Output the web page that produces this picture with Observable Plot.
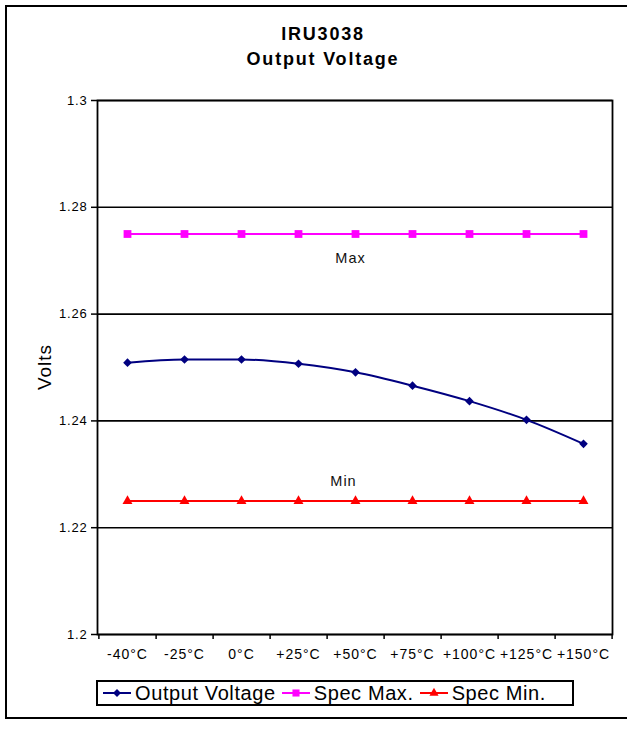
<!DOCTYPE html>
<html>
<head>
<meta charset="utf-8">
<script src="https://cdn.jsdelivr.net/npm/d3@7"></script>
<script src="https://cdn.jsdelivr.net/npm/@observablehq/plot@0.6"></script>
<style>
  body { margin: 0; background: #fff; font-family: "Liberation Sans", Arial, sans-serif; }
  #wrap { position: relative; width: 627px; height: 729px; overflow: hidden; background: #fff; }
  #border { position: absolute; left: 5px; top: 5px; width: 640px; height: 714px; border: 2px solid #000; box-sizing: border-box; }
  #title { position: absolute; left: 0; width: 646px; top: 22px; text-align: center; font-weight: bold; font-size: 18px; letter-spacing: 1.8px; line-height: 25px; color: #000; }
  #ylabel { position: absolute; left: 45px; top: 367px; transform: translate(-50%, -50%) rotate(-90deg); font-size: 19px; letter-spacing: 1px; color: #000; white-space: nowrap; }
  #chart { position: absolute; left: 0; top: 0; }
  #legend { position: absolute; left: 96px; top: 680px; width: 478px; height: 26px; border: 2px solid #000; box-sizing: border-box; display: flex; align-items: center; font-size: 20px; letter-spacing: 0.6px; color: #000; padding-left: 5px; white-space: nowrap; }
  .item { display: flex; align-items: center; margin-right: 6px; }
  .item svg { margin-right: 4px; }
  #chart g[aria-label="x-axis tick label"] text { letter-spacing: 1px; }
  #chart g[aria-label="y-axis tick label"] text { letter-spacing: 0.8px; }
  #chart g[aria-label="text"] text { letter-spacing: 1px; }
</style>
</head>
<body>
<div id="wrap">
  <div id="border"></div>
  <div id="title">IRU3038<br>Output Voltage</div>
  <div id="ylabel">Volts</div>
  <div id="chart"></div>
  <div id="legend"></div>
</div>
<script>
const categories = ["-40°C", "-25°C", "0°C", "+25°C", "+50°C", "+75°C", "+100°C", "+125°C", "+150°C"];
const outputVoltage = [1.2509, 1.2515, 1.2515, 1.2507, 1.2491, 1.2466, 1.2437, 1.2402, 1.2357];
const specMax = [1.275, 1.275, 1.275, 1.275, 1.275, 1.275, 1.275, 1.275, 1.275];
const specMin = [1.225, 1.225, 1.225, 1.225, 1.225, 1.225, 1.225, 1.225, 1.225];
const yTicks = [1.2, 1.22, 1.24, 1.26, 1.28, 1.3];
const seriesNames = ["Output Voltage", "Spec Max.", "Spec Min."];
const seriesColors = ["#000080", "#FF00FF", "#FF0000"];
const seriesSymbols = ["diamond2", "square", "triangle"];
const maxLabel = [{label: "Max", x: "+50°C", y: 1.2704}];
const minLabel = [{label: "Min", x: "+50°C", y: 1.2287}];

const rows = (vals) => categories.map((c, i) => ({cat: c, v: vals[i]}));
const ov = rows(outputVoltage), mx = rows(specMax), mn = rows(specMin);

const W = 627, H = 729, mL = 97, mR = 15, mT = 100, mB = 95;
const bw = (W - mL - mR) / categories.length;

const chart = Plot.plot({
  width: W,
  height: H,
  marginLeft: mL,
  marginRight: mR,
  marginTop: mT,
  marginBottom: mB,
  style: {background: "transparent", fontFamily: "Liberation Sans, Arial, sans-serif", color: "#000"},
  x: {type: "point", domain: categories, padding: 0.5, align: 0.5},
  y: {domain: [1.2, 1.3]},
  marks: [
    Plot.ruleY(yTicks, {stroke: "#000", strokeWidth: 1.6}),
    Plot.frame({stroke: "#000", strokeWidth: 1.8}),
    Plot.ruleX(categories, {x: d => d, y1: 1.2, y2: 1.2, dx: bw / 2, insetBottom: -5, stroke: "#000", strokeWidth: 1.5}),
    Plot.ruleX([categories[0]], {x: d => d, y1: 1.2, y2: 1.2, dx: -bw / 2, insetBottom: -5, stroke: "#000", strokeWidth: 1.5}),
    Plot.axisY({ticks: yTicks, tickFormat: d => String(+d.toFixed(2)), tickSize: 6, tickPadding: 4, fontSize: 13, label: null, stroke: "#000", strokeWidth: 1.5}),
    Plot.axisX({tickSize: 0, tickPadding: 15, fontSize: 14, label: null}),
    Plot.line(mx, {x: "cat", y: "v", stroke: seriesColors[1], strokeWidth: 2}),
    Plot.dot(mx, {x: "cat", y: "v", symbol: seriesSymbols[1], r: 4.4, fill: seriesColors[1], stroke: "none"}),
    Plot.line(mn, {x: "cat", y: "v", stroke: seriesColors[2], strokeWidth: 2}),
    Plot.dot(mn, {x: "cat", y: "v", symbol: seriesSymbols[2], r: 3.7, fill: seriesColors[2], stroke: "none"}),
    Plot.line(ov, {x: "cat", y: "v", stroke: seriesColors[0], strokeWidth: 2, curve: "monotone-x"}),
    Plot.dot(ov, {x: "cat", y: "v", symbol: seriesSymbols[0], r: 3.9, fill: seriesColors[0], stroke: "none"}),
    Plot.text(maxLabel, {x: "x", y: "y", text: "label", dx: -5, fontSize: 14.5, fill: "#111"}),
    Plot.text(minLabel, {x: "x", y: "y", text: "label", dx: -12, fontSize: 14.5, fill: "#111"})
  ]
});
document.getElementById("chart").appendChild(chart);

// legend
const legend = document.getElementById("legend");
const symbolPaths = {
  diamond2: d3.symbol(d3.symbolDiamond2, 40)(),
  square: d3.symbol(d3.symbolSquare, 50)(),
  triangle: d3.symbol(d3.symbolTriangle, 36)()
};
seriesNames.forEach((name, i) => {
  const item = document.createElement("div");
  item.className = "item";
  item.innerHTML = `<svg width="28" height="14" viewBox="0 0 28 14"><line x1="0" x2="28" y1="7" y2="7" stroke="${seriesColors[i]}" stroke-width="2"/><path d="${symbolPaths[seriesSymbols[i]]}" transform="translate(14,7)" fill="${seriesColors[i]}"/></svg><span>${name}</span>`;
  legend.appendChild(item);
});
</script>
</body>
</html>
